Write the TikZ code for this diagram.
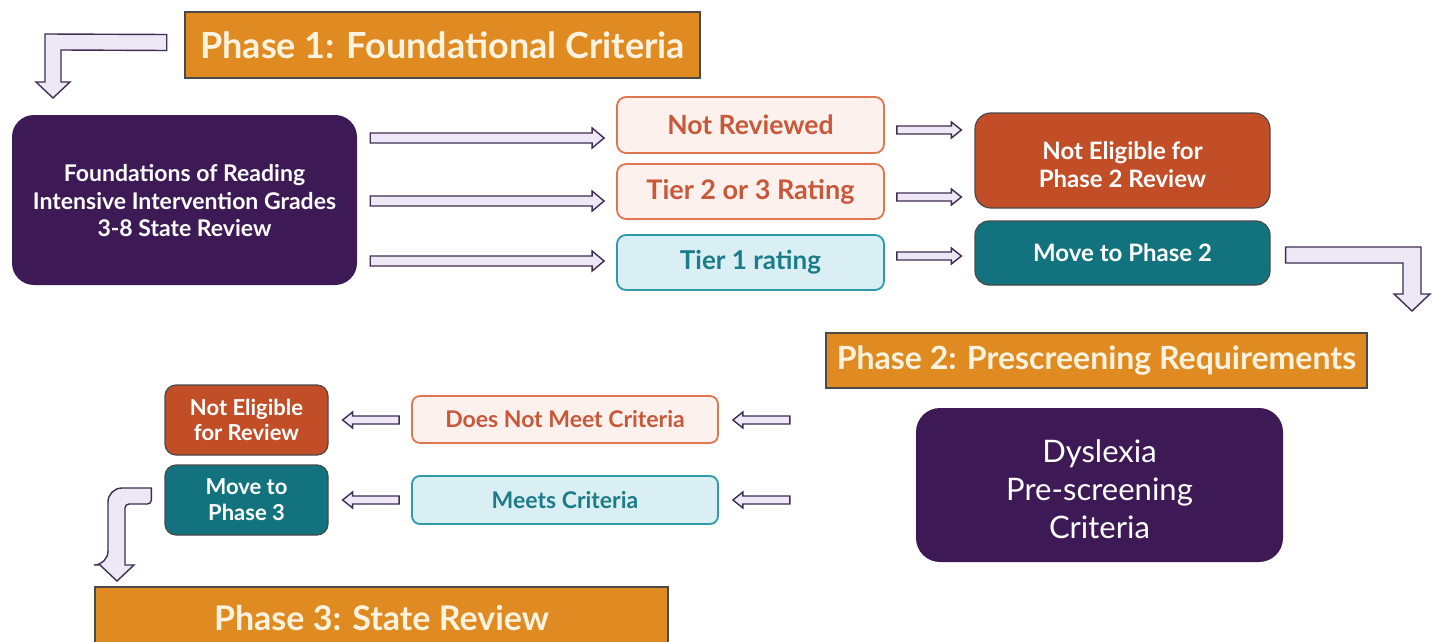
\documentclass[tikz,border=0pt]{standalone}
\usepackage{fontspec}
\setmainfont{Lato}
\usetikzlibrary{calc}
\definecolor{hdr}{HTML}{E08B22}
\definecolor{hdrline}{HTML}{4A4A4A}
\definecolor{hdrtxt}{HTML}{FFF3E0}
\definecolor{purp}{HTML}{3D1A56}
\definecolor{rust}{HTML}{C24E28}
\definecolor{tealdk}{HTML}{12737F}
\definecolor{pinkfill}{HTML}{FDF1ED}
\definecolor{pinkline}{HTML}{E07650}
\definecolor{pinktxt}{HTML}{C8583A}
\definecolor{cyanfill}{HTML}{D9EFF3}
\definecolor{cyanline}{HTML}{2E9BAA}
\definecolor{cyantxt}{HTML}{1D7C88}
\definecolor{arrfill}{HTML}{EDE7F6}
\definecolor{arrline}{HTML}{3E2E52}
\newcommand\setfs[2]{\fontsize{#1}{#2}\selectfont}
% block arrow: {start}{end}{shaft half}{head half}{head length}
\newcommand\blkarrow[5]{%
  \path[arrowlook] let \p1=#1, \p2=#2, \n1={sign(\x2-\x1)} in
      (\x1,\y1+#3) -- (\x2-\n1*#5,\y1+#3) -- (\x2-\n1*#5,\y1+#4) -- (\x2,\y1)
      -- (\x2-\n1*#5,\y1-#4) -- (\x2-\n1*#5,\y1-#3) -- (\x1,\y1-#3) -- cycle;}
\begin{document}
\begin{tikzpicture}[x=1pt,y=-1pt,
  header/.style={draw=hdrline, line width=2.5pt, fill=hdr, text=hdrtxt, inner sep=0pt},
  darkbox/.style={rounded corners=#1, inner sep=0pt, align=center, text=white},
  palebox/.style={rounded corners=9pt, line width=1.8pt, inner sep=0pt, align=center},
  bf/.style n args={2}{font=\bfseries\setfs{#1}{#2}},
  arrowlook/.style={fill=arrfill, draw=arrline, line width=1.4pt, line join=miter},
  bentarrow/.style={arrowlook}
]
\useasboundingbox (0,0) rectangle (1434,642);
\fill[white] (0,0) rectangle (1434,642);

% headers
\node[header, bf={36}{40}, minimum width=515pt, minimum height=66pt] (p1) at (442.5,45) {Phase 1: Foundational Criteria};
\node[header, bf={32}{36}, minimum width=541pt, minimum height=55pt] (p2) at (1096.5,360.5) {Phase 2: Prescreening Requirements};
\node[header, bf={34}{38}, minimum width=573pt, minimum height=62pt] (p3) at (381.5,618) {Phase 3: State Review};

% phase 1 boxes
\node[darkbox=22pt, bf={23}{27.5}, fill=purp, minimum width=345pt, minimum height=170pt] (found) at (184.5,200)
  {\rule{0pt}{19pt}Foundations of Reading\\Intensive Intervention Grades\\3-8 State Review};
\node[palebox, bf={26.5}{30}, draw=pinkline, fill=pinkfill, text=pinktxt, minimum width=267pt, minimum height=56pt] (nr) at (750.5,125) {Not Reviewed};
\node[palebox, bf={27}{30}, draw=pinkline, fill=pinkfill, text=pinktxt, minimum width=267pt, minimum height=55pt] (t23) at (750.5,191.5) {Tier 2 or 3 Rating};
\node[palebox, bf={26}{30}, draw=cyanline, fill=cyanfill, text=cyantxt, minimum width=267pt, minimum height=55pt] (t1) at (750.5,262.5) {Tier 1 rating};
\node[darkbox=16pt, bf={24}{28}, fill=rust, draw=hdrline, line width=1.2pt, minimum width=295pt, minimum height=95pt] (ne2) at (1122.5,160.5)
  {\rule{0pt}{26pt}Not Eligible for\\Phase 2 Review};
\node[darkbox=14pt, bf={24}{28}, fill=tealdk, draw=hdrline, line width=1.2pt, minimum width=295pt, minimum height=64pt] (mv2) at (1122.5,253) {Move to Phase 2};

% phase 2 boxes
\node[darkbox=24pt, font=\setfs{31}{38}, fill=purp, minimum width=367pt, minimum height=154pt] (dys) at (1099.5,485)
  {\rule{0pt}{32pt}Dyslexia\\Pre-screening\\Criteria};
\node[palebox, bf={23}{26}, rounded corners=8pt, draw=pinkline, fill=pinkfill, text=pinktxt, minimum width=306pt, minimum height=47pt] (dnm) at (565,419.5) {Does Not Meet Criteria};
\node[palebox, bf={23}{26}, rounded corners=8pt, draw=cyanline, fill=cyanfill, text=cyantxt, minimum width=306pt, minimum height=48pt] (mc) at (565,500) {Meets Criteria};
\node[darkbox=11pt, bf={22}{25}, fill=rust, draw=hdrline, line width=1.2pt, minimum width=163pt, minimum height=70pt] (ne) at (246.5,420)
  {Not Eligible\\for Review};
\node[darkbox=11pt, bf={22}{26}, fill=tealdk, draw=hdrline, line width=1.2pt, minimum width=163pt, minimum height=70pt] (mv3) at (246.5,500)
  {Move to\\Phase 3};

% straight block arrows
\blkarrow{($(found.east |- nr.west)+(13,13)$)}{($(nr.west)+(-12,13)$)}{5pt}{10pt}{12pt}
\blkarrow{($(found.east |- t23.west)+(13,9.5)$)}{($(t23.west)+(-12,9.5)$)}{5pt}{10pt}{12pt}
\blkarrow{($(found.east |- t1.west)+(13,-1.5)$)}{($(t1.west)+(-12,-1.5)$)}{5pt}{10pt}{12pt}
\blkarrow{($(nr.east)+(12,5)$)}{($(ne2.west |- nr.east)+(-13,5)$)}{4pt}{8pt}{10pt}
\blkarrow{($(t23.east)+(12,5.5)$)}{($(ne2.west |- t23.east)+(-13,5.5)$)}{4pt}{8pt}{10pt}
\blkarrow{($(t1.east)+(12,-6.5)$)}{($(mv2.west |- t1.east)+(-13,-6.5)$)}{4pt}{8pt}{10pt}
\blkarrow{($(dys.west |- dnm.east)+(-126,0.5)$)}{($(dnm.east)+(14,0.5)$)}{4pt}{8pt}{10pt}
\blkarrow{($(dys.west |- mc.east)+(-126,0)$)}{($(mc.east)+(14,0)$)}{4pt}{8pt}{10pt}
\blkarrow{($(dnm.west)+(-12,0.5)$)}{($(ne.east |- dnm.west)+(14,0.5)$)}{4pt}{8pt}{10pt}
\blkarrow{($(mc.west)+(-12,0)$)}{($(mv3.east |- mc.west)+(14,0)$)}{4pt}{8pt}{10pt}

% bent arrows
\coordinate (b1) at ($(p1.west)+(-17,-2.5)$);
\draw[bentarrow] (b1) ++(0,-8) -- (45,34) -- (45,82) -- (36,82) -- (53,98) -- (70,82) -- (61,82) -- (61,50) -- ($(b1)+(0,8)$) -- cycle;
\coordinate (b2) at ($(mv2.east)+(15,2)$);
\draw[bentarrow] (b2) ++(0,-8) -- (1421,247) -- (1421,294) -- (1430,294) -- (1412,311) -- (1394,294) -- (1403,294) -- (1403,263) -- ($(b2)+(0,8)$) -- cycle;
\coordinate (b3) at ($(mv3.west)+(-13,-4)$);
\draw[bentarrow] (b3) ++(0,-8) [rounded corners=14pt] -- (108,488) -- (108,565) [sharp corners] -- (100,565) -- (117,581) -- (134,565) -- (125,565) [rounded corners=4pt] -- (125,504) -- ($(b3)+(0,8)$) [sharp corners] -- cycle;
\end{tikzpicture}
\end{document}
